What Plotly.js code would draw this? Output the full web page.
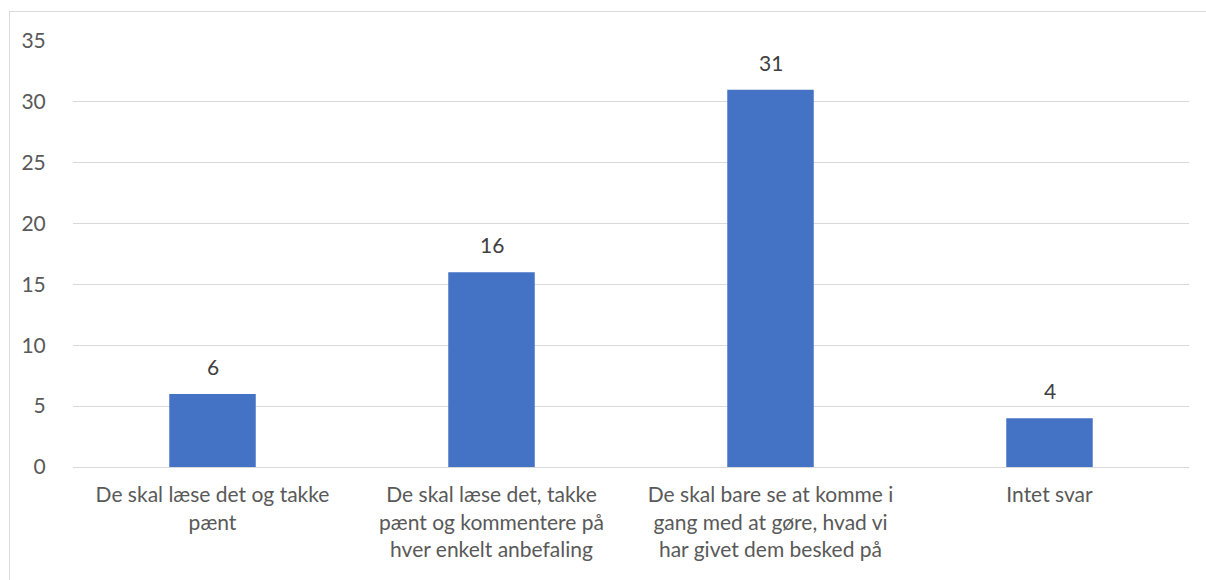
<!DOCTYPE html>
<html><head><meta charset="utf-8">
<script src="https://cdn.plot.ly/plotly-3.0.1.min.js"></script>
<style>
html,body{margin:0;padding:0;background:#fff;width:1206px;height:580px;overflow:hidden;}
#frame{position:absolute;left:9px;top:11px;width:1197px;height:569px;border-left:1px solid #d9d9d9;border-top:1px solid #d9d9d9;}
#chart{position:absolute;left:0;top:0;width:1196px;height:568px;}
</style></head>
<body><div id="frame"><div id="chart"></div></div>
<script>
const categories = [
  "De skal læse det og takke<br>pænt",
  "De skal læse det, takke<br>pænt og kommentere på<br>hver enkelt anbefaling",
  "De skal bare se at komme i<br>gang med at gøre, hvad vi<br>har givet dem besked på",
  "Intet svar"
];
const values = [6, 16, 31, 4];
const yTicks = [0, 5, 10, 15, 20, 25, 30, 35];

const fam = "Lato, 'Open Sans', sans-serif";
const tickFont = {family: fam, size: 21, color: "#595959"};
const labelFont = {family: fam, size: 21, color: "#404040"};

Plotly.newPlot("chart", [{
  type: "bar",
  x: categories,
  y: values,
  marker: {color: "#4472C4"},
  hoverinfo: "none"
}], {
  width: 1196, height: 568,
  margin: {l: 63, r: 17, t: 29, b: 113},
  paper_bgcolor: "#fff", plot_bgcolor: "#fff",
  font: tickFont,
  bargap: 0.69,
  showlegend: false,
  xaxis: {
    type: "category", showgrid: false, zeroline: false, showline: false,
    ticks: "outside", ticklen: 9, tickcolor: "rgba(0,0,0,0)",
    tickfont: tickFont, fixedrange: true
  },
  yaxis: {
    range: [0, 35], tickvals: yTicks, ticktext: yTicks.map(String),
    showgrid: true, gridcolor: "#d9d9d9", gridwidth: 1,
    zeroline: true, zerolinecolor: "#d9d9d9", zerolinewidth: 1,
    showline: false, ticks: "outside", ticklen: 22, tickcolor: "rgba(0,0,0,0)",
    tickfont: tickFont, fixedrange: true
  },
  annotations: categories.map((c, i) => ({
    x: c, y: values[i], xref: "x", yref: "y",
    text: String(values[i]), showarrow: false,
    yanchor: "bottom", yshift: 13, font: labelFont
  }))
}, {displayModeBar: false, staticPlot: true});
</script></body></html>
